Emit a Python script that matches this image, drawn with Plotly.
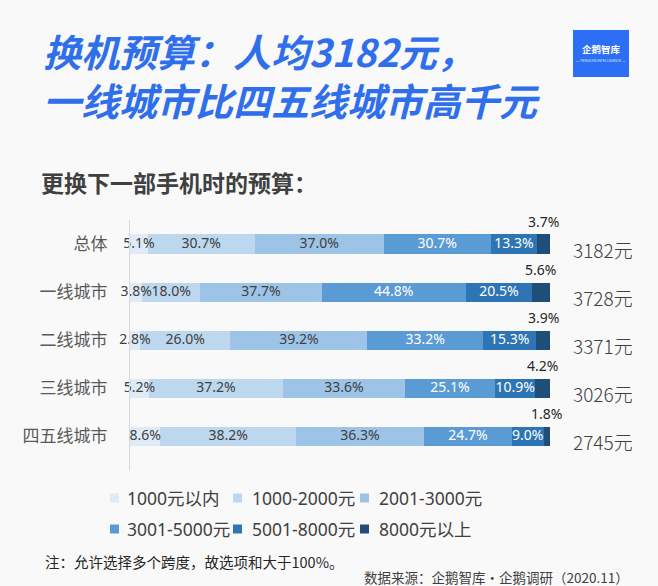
import plotly.graph_objects as go

# ---------------- data ----------------
categories = ["总体", "一线城市", "二线城市", "三线城市", "四五线城市"]
series_names = ["1000元以内", "1000-2000元", "2001-3000元", "3001-5000元", "5001-8000元", "8000元以上"]
s_lt1000 = [5.1, 3.8, 2.8, 5.2, 8.6]
s_1000_2000 = [30.7, 18.0, 26.0, 37.2, 38.2]
s_2001_3000 = [37.0, 37.7, 39.2, 33.6, 36.3]
s_3001_5000 = [30.7, 44.8, 33.2, 25.1, 24.7]
s_5001_8000 = [13.3, 20.5, 15.3, 10.9, 9.0]
s_gt8000 = [3.7, 5.6, 3.9, 4.2, 1.8]
avg_budget = [3182, 3728, 3371, 3026, 2745]

series_values = [s_lt1000, s_1000_2000, s_2001_3000, s_3001_5000, s_5001_8000, s_gt8000]
colors = ["#deebf7", "#bdd7ee", "#9dc3e6", "#5b9bd5", "#2e75b6", "#1f4e79"]
text_colors = ["#404040", "#404040", "#404040", "#ffffff", "#ffffff", "#262626"]

title_line1 = "换机预算：人均3182元，"
title_line2 = "一线城市比四五线城市高千元"
subtitle = "更换下一部手机时的预算："
note = "注：允许选择多个跨度，故选项和大于100%。"
source = "数据来源：企鹅智库·企鹅调研（2020.11）"

W, H = 658, 586
L, R, T, B = 130, 550, 220, 471
CJK = "Noto Sans CJK SC"
NUM = "Noto Sans, Noto Sans CJK SC"


def px(x):
    return (x - L) / (R - L)


def py(y):
    return (B - y) / (B - T)


fig = go.Figure()
for i, (name, vals) in enumerate(zip(series_names, series_values)):
    fig.add_trace(go.Bar(
        y=categories, x=vals, name=name, orientation="h",
        marker=dict(color=colors[i], line=dict(width=0)),
        showlegend=False, hoverinfo="skip",
    ))

annotations = []
shapes = []

# segment labels drawn on top of all bars (centre of each normalised segment)
totals = [sum(sv[j] for sv in series_values) for j in range(len(categories))]
for i, vals in enumerate(series_values):
    xs = []
    for j in range(len(categories)):
        left = sum(series_values[k][j] for k in range(i)) / totals[j] * 100
        xs.append(left + vals[j] / totals[j] * 100 / 2)
    is_last = i == len(series_values) - 1
    if is_last:
        for j, cat in enumerate(categories):
            annotations.append(dict(x=xs[j], y=cat, xref="x", yref="y", text=f"{vals[j]:.1f}%",
                                    showarrow=False, yshift=23, xanchor="center",
                                    font=dict(family=NUM, size=14, color=text_colors[i])))
    else:
        fig.add_trace(go.Scatter(
            x=xs, y=categories, mode="text", text=[f"{v:.1f}%" for v in vals],
            textposition="middle center",
            textfont=dict(family=NUM, size=14, color=text_colors[i]),
            cliponaxis=False, showlegend=False, hoverinfo="skip",
        ))

for j, cat in enumerate(categories):
    annotations.append(dict(x=100, y=cat, xref="x", yref="y", text=f"{avg_budget[j]}元",
                            showarrow=False, xanchor="left", xshift=21, yshift=-5,
                            font=dict(family=CJK, size=19, color="#404040", weight=300)))

# titles
annotations.append(dict(x=px(41), y=py(75), xref="paper", yref="paper",
                        text=title_line1 + "<br>" + title_line2,
                        showarrow=False, xanchor="left", yanchor="middle", align="left",
                        font=dict(family=CJK, size=38, color="#2f6fec", weight="bold", style="italic")))
annotations.append(dict(x=px(39), y=py(182), xref="paper", yref="paper", text=subtitle,
                        showarrow=False, xanchor="left", yanchor="middle",
                        font=dict(family=CJK, size=23, color="#404040", weight="bold")))

# logo
shapes.append(dict(type="rect", xref="paper", yref="paper", x0=px(573), x1=px(629), y0=py(77), y1=py(30),
                   fillcolor="#2c6ff5", line=dict(width=0), layer="above"))
annotations.append(dict(x=px(601), y=py(49), xref="paper", yref="paper", text="企鹅智库",
                        showarrow=False, xanchor="center", yanchor="middle",
                        font=dict(family=CJK, size=9.5, color="#ffffff", weight="bold")))
annotations.append(dict(x=px(601), y=py(61), xref="paper", yref="paper", text="— PENGUIN INTELLIGENCE —",
                        showarrow=False, xanchor="center", yanchor="middle",
                        font=dict(family="Noto Sans", size=3.5, color="#dfe8ff")))

# legend (manual)
sw_x = [110, 233, 360]
tx_x = [125, 250, 377]
row_y = [498, 529]
for i, name in enumerate(series_names):
    r, c = divmod(i, 3)
    cy = row_y[r]
    shapes.append(dict(type="rect", xref="paper", yref="paper",
                       x0=px(sw_x[c]), x1=px(sw_x[c] + 9), y0=py(cy + 4.5), y1=py(cy - 4.5),
                       fillcolor=colors[i], line=dict(width=0)))
    annotations.append(dict(x=px(tx_x[c]), y=py(cy), xref="paper", yref="paper", text=name,
                            showarrow=False, xanchor="left", yanchor="middle",
                            font=dict(family=NUM, size=17.5, color="#404040")))

# footer
annotations.append(dict(x=px(43), y=py(561), xref="paper", yref="paper", text=note,
                        showarrow=False, xanchor="left", yanchor="middle",
                        font=dict(family=CJK, size=14.5, color="#262626")))
annotations.append(dict(x=px(362), y=py(577), xref="paper", yref="paper", text=source,
                        showarrow=False, xanchor="left", yanchor="middle",
                        font=dict(family=CJK, size=13.5, color="#404040")))

fig.update_layout(
    width=W, height=H,
    margin=dict(l=L, r=W - R, t=T, b=H - B, pad=0),
    barmode="stack", barnorm="percent", bargap=0.6,
    paper_bgcolor="#f9f9fa", plot_bgcolor="#f9f9fa",
    annotations=annotations, shapes=shapes,
    showlegend=False,
)
fig.update_xaxes(range=[0, 100], showgrid=False, zeroline=False, showticklabels=False, showline=False)
fig.update_yaxes(autorange="reversed", showgrid=False, zeroline=False, showline=True,
                 linecolor="#d9d9d9", linewidth=1, ticks="", ticklabelstandoff=18,
                 tickfont=dict(family=CJK, size=17, color="#595959"))

fig.write_html("out.html", config={"displayModeBar": False},
               post_script="document.body.style.margin='0';document.body.style.overflow='hidden';")
